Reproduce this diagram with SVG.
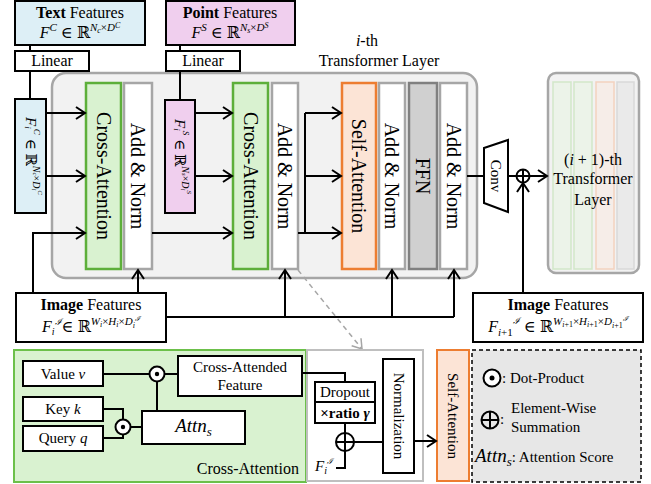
<svg xmlns="http://www.w3.org/2000/svg" width="651" height="484" viewBox="0 0 651 484">
<defs>
<style>
.t{font-family:"Liberation Serif","DejaVu Serif",serif;font-size:16px;fill:#000}
.s{font-family:"Liberation Serif","DejaVu Serif",serif;font-size:15px;fill:#000}
.m{font-family:"Liberation Serif","DejaVu Serif",serif;font-style:italic;fill:#000}
.c{font-family:"DejaVu Serif","Liberation Serif",serif;font-style:italic}
.r{font-family:"Liberation Serif","DejaVu Serif",serif;font-size:20px;fill:#000}
.box{fill:#fff;stroke:#000;stroke-width:2}
.ln{fill:none;stroke:#000;stroke-width:2}
.an{fill:#fff;stroke:#A6A6A6;stroke-width:2.5}
.ca{fill:#D9F2D0;stroke:#5DAF3A;stroke-width:2.5}
.sa{fill:#FCE4D6;stroke:#ED7D31;stroke-width:2.5}
</style>
<marker id="ar" markerUnits="userSpaceOnUse" markerWidth="12" markerHeight="14" refX="10" refY="7" orient="auto">
<path d="M1,1 L10,7 L1,13" fill="none" stroke="#000" stroke-width="2"/>
</marker>
<marker id="arg" markerUnits="userSpaceOnUse" markerWidth="12" markerHeight="14" refX="10" refY="7" orient="auto">
<path d="M1,1 L10,7 L1,13" fill="none" stroke="#A6A6A6" stroke-width="1.5"/>
</marker>
</defs>

<rect x="0" y="0" width="651" height="484" fill="#fff"/>

<g id="layer-i">
<rect x="52" y="73" width="425" height="205" rx="14" fill="#F2F2F2" stroke="#A6A6A6" stroke-width="2.5"/>
<text class="t" x="367" y="46" text-anchor="middle"><tspan class="m">i</tspan>-th</text>
<text class="t" x="379" y="66" text-anchor="middle">Transformer Layer</text>
</g>

<g id="text-features">
<rect class="box" x="15" y="1" width="130" height="44" style="fill:#DDEFF6"/>
<text class="t" x="80" y="18" text-anchor="middle"><tspan font-weight="bold">Text</tspan> Features</text>
<text class="t" x="80" y="38" text-anchor="middle"><tspan class="m">F</tspan><tspan class="m" font-size="11" dy="-7">C</tspan><tspan dy="7"> ∈ ℝ</tspan><tspan class="m" font-size="11" dy="-7">N</tspan><tspan class="m" font-size="8" dy="2">c</tspan><tspan font-size="11" dy="-2">×</tspan><tspan class="m" font-size="11">D</tspan><tspan class="m" font-size="8" dy="-3">C</tspan></text>
</g>
<g id="linear-1">
<rect class="box" x="15" y="51" width="74" height="20"/>
<text class="t" x="52" y="66" text-anchor="middle">Linear</text>
</g>
<g id="fic">
<rect class="box" x="15" y="99" width="31" height="114" style="fill:#DDEFF6"/>
<text class="s" font-size="14" transform="translate(30.5,156) rotate(90)" text-anchor="middle" dominant-baseline="central"><tspan class="m">F</tspan><tspan class="m" font-size="9" dy="3">i</tspan><tspan class="m" font-size="9" dy="-9">C</tspan><tspan dy="6"> ∈ ℝ</tspan><tspan class="m" font-size="10" dy="-6">N</tspan><tspan class="m" font-size="7" dy="2">c</tspan><tspan font-size="10" dy="-2">×</tspan><tspan class="m" font-size="10">D</tspan><tspan class="m" font-size="7" dy="3">i</tspan><tspan class="m" font-size="7" dy="-6">C</tspan></text>
</g>

<g id="point-features">
<rect class="box" x="166" y="1" width="129" height="44" style="fill:#F0CFEE"/>
<text class="t" x="230" y="18" text-anchor="middle"><tspan font-weight="bold">Point</tspan> Features</text>
<text class="t" x="230" y="38" text-anchor="middle"><tspan class="m">F</tspan><tspan class="m" font-size="11" dy="-7">S</tspan><tspan dy="7"> ∈ ℝ</tspan><tspan class="m" font-size="11" dy="-7">N</tspan><tspan class="m" font-size="8" dy="2">s</tspan><tspan font-size="11" dy="-2">×</tspan><tspan class="m" font-size="11">D</tspan><tspan class="m" font-size="8" dy="-3">S</tspan></text>
</g>
<g id="linear-2">
<rect class="box" x="166" y="51" width="74" height="20"/>
<text class="t" x="203" y="66" text-anchor="middle">Linear</text>
</g>
<g id="fis">
<rect class="box" x="165" y="100" width="30" height="113" style="fill:#F0CFEE"/>
<text class="s" font-size="14" transform="translate(180,156.5) rotate(90)" text-anchor="middle" dominant-baseline="central"><tspan class="m">F</tspan><tspan class="m" font-size="9" dy="3">i</tspan><tspan class="m" font-size="9" dy="-9">S</tspan><tspan dy="6"> ∈ ℝ</tspan><tspan class="m" font-size="10" dy="-6">N</tspan><tspan class="m" font-size="7" dy="2">s</tspan><tspan font-size="10" dy="-2">×</tspan><tspan class="m" font-size="10">D</tspan><tspan class="m" font-size="7" dy="3">i</tspan><tspan class="m" font-size="7" dy="-6">S</tspan></text>
</g>

<g id="cross-attn-1">
<rect class="ca" x="86" y="83" width="35" height="186"/>
<text class="r" transform="translate(103.5,176) rotate(90)" text-anchor="middle" dominant-baseline="central">Cross-Attention</text>
</g>
<g id="addnorm-1">
<rect class="an" x="124" y="83" width="28" height="186"/>
<text class="r" transform="translate(138,176) rotate(90)" text-anchor="middle" dominant-baseline="central">Add &amp; Norm</text>
</g>
<g id="cross-attn-2">
<rect class="ca" x="233" y="83" width="35" height="186"/>
<text class="r" transform="translate(250.5,176) rotate(90)" text-anchor="middle" dominant-baseline="central">Cross-Attention</text>
</g>
<g id="addnorm-2">
<rect class="an" x="272" y="83" width="26" height="186"/>
<text class="r" transform="translate(285,176) rotate(90)" text-anchor="middle" dominant-baseline="central">Add &amp; Norm</text>
</g>
<g id="self-attn">
<rect class="sa" x="342" y="83" width="34" height="186"/>
<text class="r" transform="translate(359,176) rotate(90)" text-anchor="middle" dominant-baseline="central">Self-Attention</text>
</g>
<g id="addnorm-3">
<rect class="an" x="379" y="83" width="26" height="186"/>
<text class="r" transform="translate(392,176) rotate(90)" text-anchor="middle" dominant-baseline="central">Add &amp; Norm</text>
</g>
<g id="ffn">
<rect x="409" y="83" width="28" height="186" fill="#D0D0D0" stroke="#808080" stroke-width="2.5"/>
<text class="r" transform="translate(423,176) rotate(90)" text-anchor="middle" dominant-baseline="central">FFN</text>
</g>
<g id="addnorm-4">
<rect class="an" x="440" y="83" width="27" height="186"/>
<text class="r" transform="translate(453.5,176) rotate(90)" text-anchor="middle" dominant-baseline="central">Add &amp; Norm</text>
</g>

<g id="conv">
<path d="M484,148 L508,140 L508,212 L484,203 Z" fill="#fff" stroke="#000" stroke-width="2"/>
<text class="s" transform="translate(496,176) rotate(90)" text-anchor="middle" dominant-baseline="central">Conv</text>
</g>
<g id="sum-top">
<circle cx="523" cy="176" r="6.5" fill="#fff" stroke="#000" stroke-width="2"/>
<path d="M516.5,176 H529.5 M523,169.5 V182.5" stroke="#000" stroke-width="2"/>
</g>

<g id="layer-next">
<rect x="548" y="73" width="91" height="200" rx="8" fill="#F2F2F2" stroke="#A6A6A6" stroke-width="2.5"/>
<rect x="553" y="82" width="18" height="187" fill="#ECF3E9" stroke="#D2E7C9" stroke-width="1.5"/>
<rect x="574" y="82" width="18" height="187" fill="#ECF3E9" stroke="#D2E7C9" stroke-width="1.5"/>
<rect x="596" y="82" width="18" height="187" fill="#F6EDE8" stroke="#F3D2BF" stroke-width="1.5"/>
<rect x="617" y="82" width="17" height="187" fill="#EAEAEA" stroke="#D9D9D9" stroke-width="1.5"/>
<text class="t" x="593" y="165" text-anchor="middle">(<tspan class="m">i</tspan> + 1)-th</text>
<text class="t" x="593" y="184" text-anchor="middle">Transformer</text>
<text class="t" x="593" y="205" text-anchor="middle">Layer</text>
</g>

<g id="image-features-i">
<rect class="box" x="16" y="293" width="150" height="49"/>
<text class="t" x="91" y="310" text-anchor="middle"><tspan font-weight="bold">Image</tspan> Features</text>
<text class="t" x="91" y="332" text-anchor="middle"><tspan class="m">F</tspan><tspan class="m" font-size="10" dy="3">i</tspan><tspan class="c" font-size="9" dy="-10">ℐ</tspan><tspan dy="7">∈ ℝ</tspan><tspan class="m" font-size="11" dy="-7">W</tspan><tspan class="m" font-size="8" dy="2">i</tspan><tspan font-size="11" dy="-2">×</tspan><tspan class="m" font-size="11">H</tspan><tspan class="m" font-size="8" dy="2">i</tspan><tspan font-size="11" dy="-2">×</tspan><tspan class="m" font-size="11">D</tspan><tspan class="m" font-size="8" dy="3">i</tspan><tspan class="c" font-size="7" dy="-7">ℐ</tspan></text>
</g>
<g id="image-features-next">
<rect class="box" x="473" y="293" width="170" height="49"/>
<text class="t" x="558" y="310" text-anchor="middle"><tspan font-weight="bold">Image</tspan> Features</text>
<text class="t" x="558" y="332" text-anchor="middle"><tspan class="m">F</tspan><tspan class="m" font-size="11" dy="4">i</tspan><tspan font-size="11">+1</tspan><tspan class="c" font-size="9" dy="-12">ℐ</tspan><tspan dy="8"> ∈ ℝ</tspan><tspan class="m" font-size="11" dy="-7">W</tspan><tspan class="m" font-size="8" dy="2">i</tspan><tspan font-size="8">+1</tspan><tspan font-size="11" dy="-2">×</tspan><tspan class="m" font-size="11">H</tspan><tspan class="m" font-size="8" dy="2">i</tspan><tspan font-size="8">+1</tspan><tspan font-size="11" dy="-2">×</tspan><tspan class="m" font-size="11">D</tspan><tspan class="m" font-size="8" dy="3">i</tspan><tspan font-size="8">+1</tspan><tspan class="c" font-size="7" dy="-7">ℐ</tspan></text>
</g>

<g id="connectors">
<path class="ln" d="M30,45 V51 M30,71 V99 M180,45 V51 M180,71 V100"/>
<path class="ln" d="M46,113 H85" marker-end="url(#ar)"/>
<path class="ln" d="M46,176 H85" marker-end="url(#ar)"/>
<path class="ln" d="M33,293 V233 H85" marker-end="url(#ar)"/>
<path class="ln" d="M195,113 H232" marker-end="url(#ar)"/>
<path class="ln" d="M195,176 H232" marker-end="url(#ar)"/>
<path class="ln" d="M152,233 H232" marker-end="url(#ar)"/>
<path class="ln" d="M298,233 H305 V113"/>
<path class="ln" d="M305,113 H341" marker-end="url(#ar)"/>
<path class="ln" d="M305,176 H341" marker-end="url(#ar)"/>
<path class="ln" d="M305,233 H341" marker-end="url(#ar)"/>
<path class="ln" d="M138,293 V270" marker-end="url(#ar)"/>
<path class="ln" d="M166,317 H454"/>
<path class="ln" d="M285,317 V270" marker-end="url(#ar)"/>
<path class="ln" d="M392,317 V270" marker-end="url(#ar)"/>
<path class="ln" d="M454,317 V270" marker-end="url(#ar)"/>
<path class="ln" d="M467,176 H484 M508,176 H516.5"/>
<path class="ln" d="M529.5,176 H547" marker-end="url(#ar)"/>
<path class="ln" d="M523,293 V183" marker-end="url(#ar)"/>
<path d="M298,270 L362,349" fill="none" stroke="#A6A6A6" stroke-width="1.5" stroke-dasharray="5,4" marker-end="url(#arg)"/>
</g>

<g id="cross-attention-detail">
<rect x="14" y="350" width="292" height="132" fill="#D9F2D0" stroke="#6CC04A" stroke-width="2"/>
<text class="t" x="299" y="474" text-anchor="end">Cross-Attention</text>
</g>
<g id="value-box">
<rect class="box" x="23" y="361" width="80" height="25"/>
<text class="s" x="63" y="379" text-anchor="middle">Value <tspan class="m">v</tspan></text>
</g>
<g id="key-box">
<rect class="box" x="23" y="397" width="80" height="24"/>
<text class="s" x="63" y="414" text-anchor="middle">Key <tspan class="m">k</tspan></text>
</g>
<g id="query-box">
<rect class="box" x="23" y="426" width="80" height="25"/>
<text class="s" x="63" y="443" text-anchor="middle">Query <tspan class="m">q</tspan></text>
</g>
<g id="dot-1">
<circle cx="157" cy="374" r="7.5" fill="#fff" stroke="#000" stroke-width="2"/>
<circle cx="157" cy="374" r="2.2" fill="#000"/>
</g>
<g id="dot-2">
<circle cx="123" cy="427" r="7.5" fill="#fff" stroke="#000" stroke-width="2"/>
<circle cx="123" cy="427" r="2.2" fill="#000"/>
</g>
<g id="caf-box">
<rect class="box" x="178" y="356" width="124" height="40"/>
<text class="s" x="240" y="372" text-anchor="middle">Cross-Attended</text>
<text class="s" x="240" y="390" text-anchor="middle">Feature</text>
</g>
<g id="attn-box">
<rect class="box" x="142" y="411" width="103" height="33"/>
<text class="m" font-size="19" x="193.5" y="432" text-anchor="middle">Attn<tspan font-size="13" dy="4">s</tspan></text>
</g>

<g id="addnorm-detail">
<rect x="307" y="350" width="116" height="131" fill="#fff" stroke="#BFBFBF" stroke-width="2"/>
</g>
<g id="dropout-box">
<rect class="box" x="315" y="382" width="60" height="20"/>
<text class="s" font-size="14" x="345" y="397" text-anchor="middle">Dropout</text>
</g>
<g id="ratio-box">
<rect class="box" x="315" y="402" width="60" height="21"/>
<text class="s" font-size="14" x="345" y="418" text-anchor="middle" font-weight="bold">×ratio <tspan font-style="italic">γ</tspan></text>
</g>
<g id="sum-detail">
<circle cx="345" cy="442" r="9" fill="#fff" stroke="#000" stroke-width="2"/>
<path d="M336,442 H354 M345,433 V451" stroke="#000" stroke-width="2"/>
</g>
<text class="m" font-size="15" x="324" y="471" text-anchor="middle">F<tspan font-size="10" dy="3">i</tspan><tspan class="c" font-size="8" dy="-10">ℐ</tspan></text>
<g id="normalization-box">
<rect class="box" x="383" y="359" width="31" height="114"/>
<text class="s" font-size="14" transform="translate(398.5,416) rotate(90)" text-anchor="middle" dominant-baseline="central">Normalization</text>
</g>
<g id="self-attn-detail">
<rect x="437" y="350" width="32" height="131" fill="#FCE4D6" stroke="#ED7D31" stroke-width="2"/>
<text class="s" font-size="14" transform="translate(453,416) rotate(90)" text-anchor="middle" dominant-baseline="central">Self-Attention</text>
</g>

<g id="legend">
<rect x="472" y="350" width="169" height="132" fill="#E7E7E7" stroke="#000" stroke-width="1.5" stroke-dasharray="4,3"/>
<circle cx="492" cy="378" r="8.5" fill="#fff" stroke="#000" stroke-width="2"/>
<circle cx="492" cy="378" r="2.5" fill="#000"/>
<text class="s" font-size="16" x="502" y="383">: Dot-Product</text>
<circle cx="490" cy="420" r="8.5" fill="none" stroke="#000" stroke-width="2"/>
<path d="M481.5,420 H498.5 M490,411.5 V428.5" stroke="#000" stroke-width="2"/>
<text class="s" font-size="16" x="500" y="424">:</text>
<text class="s" font-size="16" x="511" y="413">Element-Wise</text>
<text class="s" font-size="16" x="511" y="432">Summation</text>
<text class="s" font-size="16" x="475" y="462"><tspan class="m" font-size="19">Attn</tspan><tspan class="m" font-size="13" dy="4">s</tspan><tspan dy="-4">: Attention Score</tspan></text>
</g>

<g id="detail-connectors">
<path class="ln" d="M103,374 H149.5 M164.5,374 H178 M157,381.5 V411"/>
<path class="ln" d="M103,409 H123 V419.5 M103,438 H123 V434.5 M130.5,427 H142"/>
<path class="ln" d="M302,373 H345 V382 M345,423 V433 M345,451 V468 H336 M354,442 H383"/>
<path class="ln" d="M414,441 H436" marker-end="url(#ar)"/>
</g>
</svg>
